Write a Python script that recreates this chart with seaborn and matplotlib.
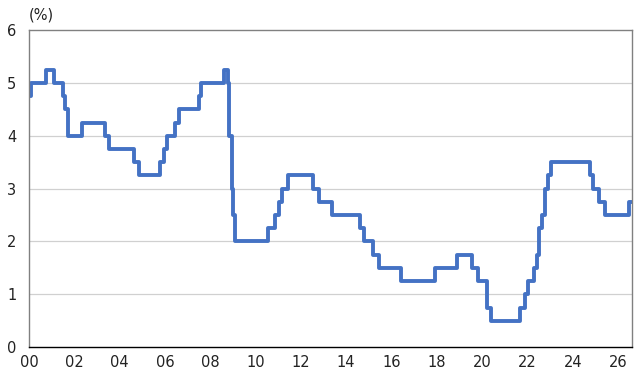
import matplotlib
matplotlib.use("Agg")
import matplotlib.pyplot as plt
import seaborn as sns
import pandas as pd

# Policy rate change points (x = years since 2000) and levels (%)
change_x = [0.00, 0.11, 0.77, 1.11, 1.51, 1.60, 1.72, 2.35, 3.36, 3.53,
            4.62, 4.87, 5.78, 5.94, 6.11, 6.44, 6.61, 7.52, 7.61, 8.60,
            8.77, 8.82, 8.85, 8.95, 9.02, 9.10, 10.53, 10.87, 11.04, 11.19,
            11.45, 12.53, 12.78, 13.36, 14.62, 14.79, 15.19, 15.44, 16.44, 17.91,
            18.91, 19.55, 19.81, 20.21, 20.41, 21.65, 21.90, 22.04, 22.28, 22.41,
            22.53, 22.65, 22.78, 22.90, 23.04, 24.78, 24.91, 25.15, 25.41, 26.48,
            26.60]
rate = [4.75, 5.00, 5.25, 5.00, 4.75, 4.50, 4.00, 4.25, 4.00, 3.75,
        3.50, 3.25, 3.50, 3.75, 4.00, 4.25, 4.50, 4.75, 5.00, 5.25,
        5.00, 4.25, 4.00, 3.00, 2.50, 2.00, 2.25, 2.50, 2.75, 3.00,
        3.25, 3.00, 2.75, 2.50, 2.25, 2.00, 1.75, 1.50, 1.25, 1.50,
        1.75, 1.50, 1.25, 0.75, 0.50, 0.75, 1.00, 1.25, 1.50, 1.75,
        2.25, 2.50, 3.00, 3.25, 3.50, 3.25, 3.00, 2.75, 2.50, 2.75,
        2.75]
x_ticks = list(range(0, 27, 2))
x_labels = ["00", "02", "04", "06", "08", "10", "12", "14", "16", "18", "20", "22", "24", "26"]
y_ticks = [0, 1, 2, 3, 4, 5, 6]

df = pd.DataFrame({"x": change_x, "rate": rate})

sns.set_style("white")
plt.rcParams['font.family'] = ['DejaVu Sans']

fig = plt.figure(figsize=(6.42, 3.87), dpi=100)
ax = fig.add_axes([0.045, 0.103, 0.939, 0.819])

sns.lineplot(data=df, x="x", y="rate", ax=ax, drawstyle="steps-post",
             color="#4472C4", linewidth=2.8, estimator=None, sort=False)

ax.set_xlim(0, 26.6)
ax.set_ylim(0, 6)
ax.set_xticks(x_ticks)
ax.set_xticklabels(x_labels)
ax.set_yticks(y_ticks)
ax.set_xlabel("")
ax.set_ylabel("")

for y in y_ticks[1:-1]:
    ax.axhline(y, color="#D0D0D0", linewidth=0.9, zorder=0)

for s in ["top", "left", "right"]:
    ax.spines[s].set_color("#808080")
    ax.spines[s].set_linewidth(1.0)
ax.spines["bottom"].set_color("black")
ax.spines["bottom"].set_linewidth(1.0)

ax.tick_params(axis="x", direction="in", length=4, width=1, color="black",
               labelsize=10.5, pad=6, labelcolor="#222222")
ax.tick_params(axis="y", length=0, labelsize=10.5, pad=9, labelcolor="#222222")

fig.text(0.045, 0.96, "(%)", fontsize=10.5, color="#222222", va="center", ha="left")

fig.savefig("out.png", dpi=100)
